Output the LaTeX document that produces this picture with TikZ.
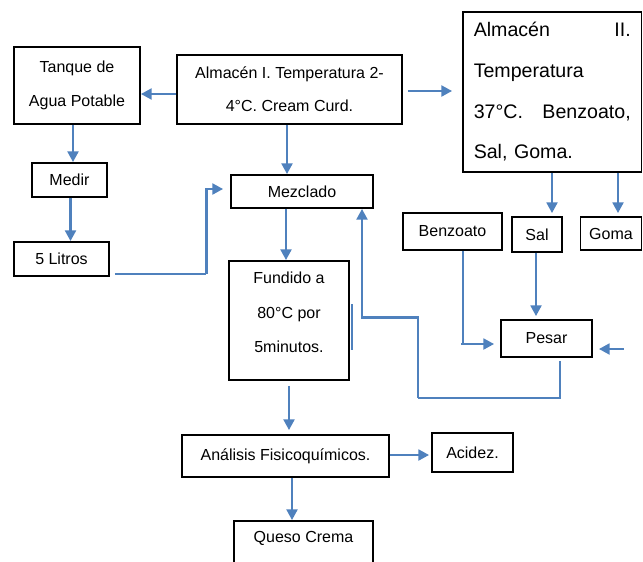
\documentclass[tikz,border=0pt]{standalone}
\usepackage{fontspec}
\setmainfont{Liberation Sans}
\usetikzlibrary{arrows.meta,calc}
\definecolor{arrblue}{RGB}{79,129,189}
\tikzset{
  box/.style 2 args={draw=black, line width=1.3pt, minimum width=#1*0.75pt, minimum height=#2*0.75pt,
    inner sep=0pt, align=center, font=\fontsize{12}{25}\selectfont},
  arr/.style={draw=arrblue, line width=2.2pt, -{Triangle[length=8pt,width=8pt]}},
  thinline/.style={draw=arrblue, line width=1.1pt},
  lbl/.style={inner sep=0pt, align=center, font=\fontsize{12}{26}\selectfont},
}
\begin{document}
\begin{tikzpicture}[x=0.75pt,y=-0.75pt]
\fill[white] (0,0) rectangle (643,561);
\useasboundingbox (0,0) rectangle (643,561);
\clip (0,0) rectangle (643,561);

% nodes
\node[box={126}{77}] (tanque) at (77,85.5) {Tanque de\\Agua Potable};
\node[box={225}{69}] (alm1) at (289.5,89.5) {Almacén I. Temperatura 2-\\4°C. Cream Curd.};
\node[box={178.5}{160}] (alm2) at (552.25,92) {};
\node[lbl, text width=117.75pt, align=left, font=\fontsize{14.7}{30.5}\selectfont] (alm2t) at (alm2.center)
  {Almacén\hfill II.\\Temperatura\\37°C.\hfill Benzoato,\\Sal, Goma.};
\node[box={75}{34}] (medir) at (69.5,180) {Medir};
\node[box={95}{34}] (litros) at (61.5,259) {5 Litros};
\node[box={142}{33}] (mezcla) at (302,191.5) {Mezclado};
\node[box={120}{119}] (fundido) at (289,320.5) {};
\node[lbl] (fundidot) at ($(fundido.center)+(0,-8)$) {Fundido a\\80°C por\\5minutos.};
\node[box={99}{37}] (benzo) at (452.5,231.5) {Benzoato};
\node[box={50}{35}] (sal) at (537,234.5) {Sal};
\node[box={61}{33}] (goma) at (611,233.5) {Goma};
\node[box={91}{37}] (pesar) at (546.5,338.5) {Pesar};
\node[box={207}{42}] (analisis) at (285.5,456) {Análisis Fisicoquímicos.};
\node[box={81}{39}] (acidez) at (472.5,452.5) {Acidez.};
\node[box={139}{60}] (queso) at (303.5,551) {};
\node[lbl] (quesot) at ($(queso.north)+(0,18)$) {Queso Crema};

% connectors
\coordinate (p1) at ($(alm1.west)+(0,4.5)$);
\draw[arr] (p1) -- (p1 -| tanque.east);
\coordinate (p2) at ($(alm1.east)+(5,1.5)$);
\draw[arr] (p2) -- ($(p2 -| alm2.west)+(-10,0)$);
\coordinate (p3) at ($(tanque.south)+(-4,0)$);
\draw[arr] (p3) -- (p3 |- medir.north);
\coordinate (p4) at ($(medir.south)+(1,0)$);
\draw[arr] (p4) -- (p4 |- litros.north);
\coordinate (p5) at ($(litros.east)+(5,15)$);
\coordinate (k5) at ($(mezcla.west)+(-24,-2.5)$);
\coordinate (k5tip) at ($(mezcla.west)+(-7,-2.5)$);
\draw[thinline] (p5) -- (p5 -| k5);
\draw[arr] (p5 -| k5) -- (k5) -- (k5tip);
\coordinate (p6) at ($(alm1.south)+(-2.5,0)$);
\draw[arr] (p6) -- (p6 |- mezcla.north);
\coordinate (p7) at ($(mezcla.south)+(-16,0)$);
\draw[arr] (p7) -- (p7 |- fundido.north);
\coordinate (p8) at ($(fundido.south)+(0,5)$);
\draw[arr] (p8) -- ($(p8 |- analisis.north)+(0,-4)$);
\coordinate (p9) at ($(analisis.east)+(0,-1)$);
\draw[arr] (p9) -- ($(p9 -| acidez.west)+(-2,0)$);
\coordinate (p10) at ($(analisis.south)+(6.5,0)$);
\draw[arr] (p10) -- (p10 |- queso.north);
\coordinate (p11) at ($(sal.north)+(15,-3)$);
\draw[arr] (p11 |- alm2.south) -- (p11);
\coordinate (p12) at ($(goma.north)+(7,-3)$);
\draw[arr] (p12 |- alm2.south) -- (p12);
\coordinate (p13) at ($(sal.south)+(-1,0)$);
\draw[arr] (p13) -- ($(p13 |- pesar.north)+(0,-3)$);
\coordinate (p14) at ($(benzo.south)+(10.5,0)$);
\coordinate (p14b) at ($(pesar.west)+(-6,5.5)$);
\draw[thinline] (p14) -- (p14 |- p14b);
\draw[arr] ($(p14 |- p14b)+(-2,0)$) -- (p14b);
\coordinate (p15) at ($(pesar.east)+(31,10.5)$);
\draw[arr] (p15) -- ($(pesar.east)+(6,10.5)$);
\coordinate (f1) at ($(pesar.south)+(13.5,3)$);
\coordinate (f2) at ($(f1)+(-142,37)$);
\coordinate (f3) at ($(mezcla.south)+(60,0)$);
\draw[thinline] (f1) |- (f2);
\draw[arr] (f2) -- ++(0,-80) -| (f3);
\draw[thinline] ($(fundido.east)+(2,-16.5)$) -- ($(fundido.east)+(2,29.5)$);
\end{tikzpicture}
\end{document}
